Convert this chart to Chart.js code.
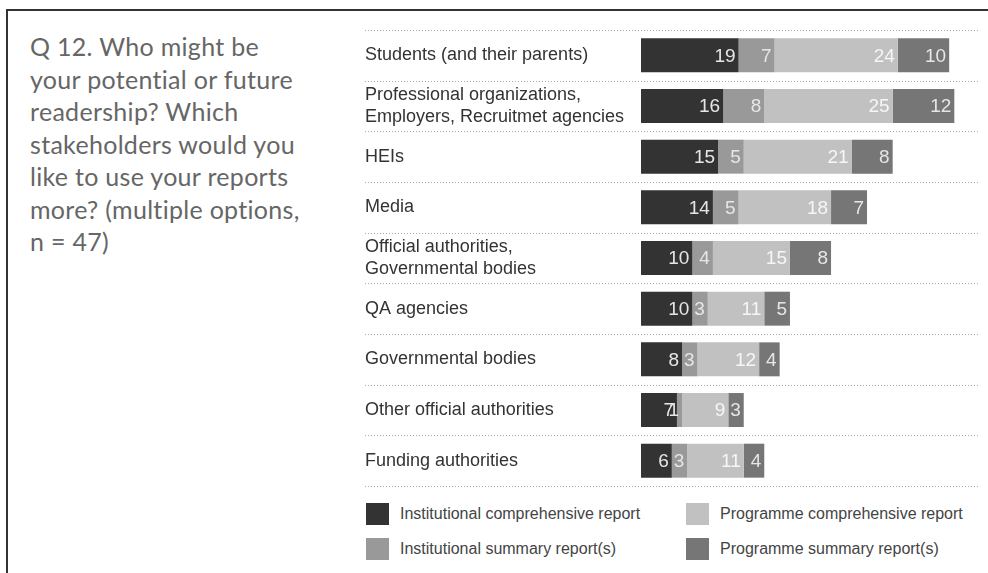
<!DOCTYPE html>
<html>
<head>
<meta charset="utf-8">
<script src="https://cdn.jsdelivr.net/npm/chart.js@4.4.1/dist/chart.umd.min.js"></script>
<style>
  html, body { margin: 0; padding: 0; background: #fff; }
  body { width: 988px; height: 573px; position: relative; overflow: hidden; }
  .frame {
    position: absolute; left: 6px; top: 9px; right: -2px; bottom: -2px;
    border-top: 2px solid #333; border-left: 2px solid #333;
  }
  .question {
    position: absolute; left: 30px; top: 30px; width: 330px;
    font-family: Lato, "Open Sans", sans-serif; font-size: 25px; line-height: 32.5px;
    letter-spacing: 0.3px; color: #666;
  }
  .chart-box { position: absolute; left: 350px; top: 0; width: 638px; height: 500px; }
  .legend {
    position: absolute; left: 366px; top: 503px; width: 620px;
    display: grid; grid-template-columns: 320px 300px; row-gap: 13px;
    font-family: "Liberation Sans", Arial, sans-serif; font-size: 16px; color: #444;
  }
  .legend span { display: flex; align-items: center; height: 22px; }
  .legend i { display: inline-block; width: 23px; height: 22px; margin-right: 11px; }
</style>
</head>
<body>
<div class="frame"></div>
<div class="question">Q 12. Who might be<br>your potential or future<br>readership? Which<br>stakeholders would you<br>like to use your reports<br>more? (multiple options,<br>n = 47)</div>
<div class="chart-box"><canvas id="readershipChart"></canvas></div>
<div class="legend" id="legend"></div>

<script>
const stakeholders = [
  'Students (and their parents)',
  ['Professional organizations,', 'Employers, Recruitmet agencies'],
  'HEIs',
  'Media',
  ['Official authorities,', 'Governmental bodies'],
  'QA agencies',
  'Governmental bodies',
  'Other official authorities',
  'Funding authorities'
];

const instComprehensive = [19, 16, 15, 14, 10, 10, 8, 7, 6];
const instSummary       = [7, 8, 5, 5, 4, 3, 3, 1, 3];
const progComprehensive = [24, 25, 21, 18, 15, 11, 12, 9, 11];
const progSummary       = [10, 12, 8, 7, 8, 5, 4, 3, 4];

const seriesNames  = ['Institutional comprehensive report', 'Institutional summary report(s)',
                      'Programme comprehensive report', 'Programme summary report(s)'];
const seriesColors = ['#333333', '#999999', '#c1c1c1', '#767676'];

// dotted separators between rows, running under the labels too
const rowLines = {
  id: 'rowLines',
  beforeDatasetsDraw(chart) {
    const ctx = chart.ctx;
    const y = chart.scales.y;
    ctx.save();
    ctx.strokeStyle = '#a8a8a8';
    ctx.lineWidth = 1;
    ctx.setLineDash([1, 2]);
    for (let i = 0; i <= stakeholders.length; i++) {
      const py = Math.round(y.getPixelForValue(i - 0.5)) + 0.5;
      ctx.beginPath();
      ctx.moveTo(15, py);
      ctx.lineTo(chart.chartArea.right, py);
      ctx.stroke();
    }
    ctx.restore();
  }
};

// value labels, right aligned inside each segment
const segmentValues = {
  id: 'segmentValues',
  afterDatasetsDraw(chart) {
    const ctx = chart.ctx;
    ctx.save();
    ctx.font = '19px "Liberation Sans", Arial, sans-serif';
    ctx.textAlign = 'right';
    ctx.textBaseline = 'middle';
    chart.data.datasets.forEach((ds, di) => {
      ctx.fillStyle = di === 2 ? '#f6f6f6' : '#e6e6e6';
      chart.getDatasetMeta(di).data.forEach((bar, i) => {
        ctx.fillText(ds.data[i], bar.x - 3, bar.y + 1);
      });
    });
    ctx.restore();
  }
};

const data = {
  labels: stakeholders,
  datasets: [instComprehensive, instSummary, progComprehensive, progSummary].map((vals, i) => ({
    label: seriesNames[i],
    data: vals,
    backgroundColor: seriesColors[i],
    borderWidth: 0,
    barPercentage: 0.67,
    categoryPercentage: 1
  }))
};

new Chart(document.getElementById('readershipChart'), {
  type: 'bar',
  data: data,
  plugins: [rowLines, segmentValues],
  options: {
    indexAxis: 'y',
    responsive: true,
    maintainAspectRatio: false,
    animation: false,
    layout: { padding: { left: 15, top: 30, right: 8, bottom: 13 } },
    plugins: {
      legend: { display: false },
      tooltip: { enabled: false }
    },
    scales: {
      x: {
        stacked: true,
        min: 0,
        max: 66,
        display: false
      },
      y: {
        stacked: true,
        afterFit: (scale) => { scale.width = 276; },
        border: { display: false },
        grid: { display: false },
        ticks: {
          crossAlign: 'far',
          color: '#333',
          font: { family: '"Liberation Sans", Arial, sans-serif', size: 18, lineHeight: 1.22 }
        }
      }
    }
  }
});

// legend in two columns
const legendOrder = [0, 2, 1, 3];
document.getElementById('legend').innerHTML = legendOrder
  .map(i => `<span><i style="background:${seriesColors[i]}"></i>${seriesNames[i]}</span>`)
  .join('');
</script>
</body>
</html>
